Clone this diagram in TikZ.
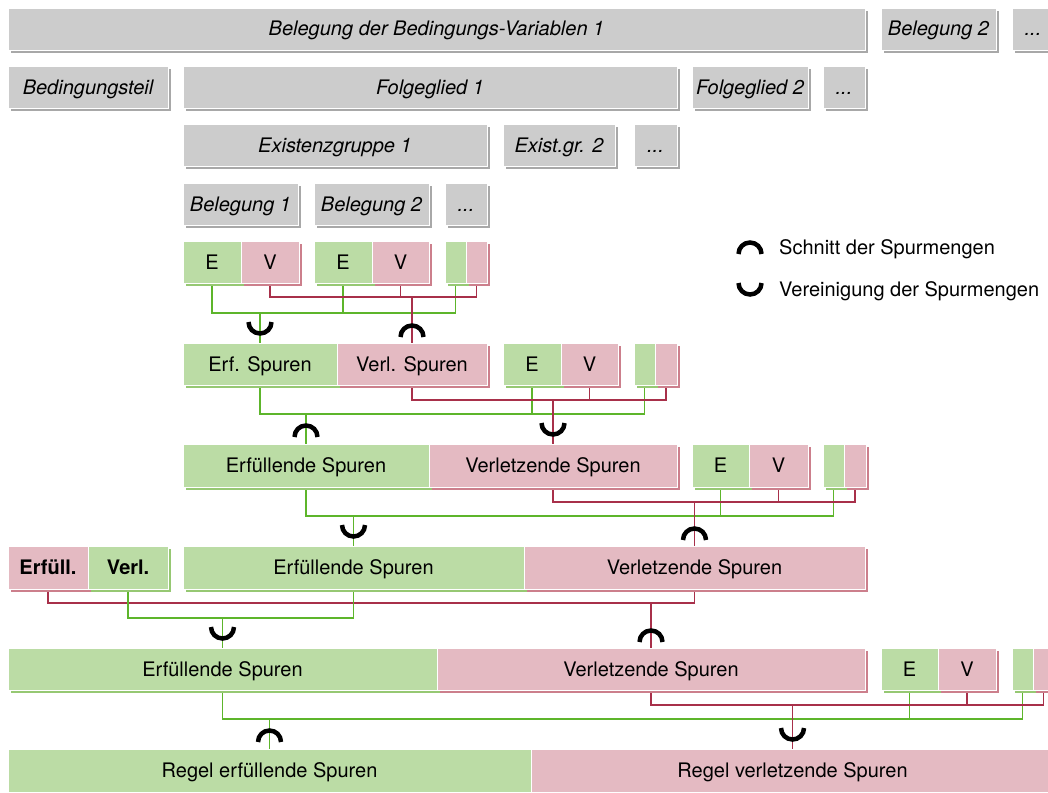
\documentclass[tikz,border=0pt]{standalone}
\usepackage{fontspec}
\setmainfont{TeX Gyre Heros}
\usetikzlibrary{shadows,backgrounds}

\definecolor{boxgray}{HTML}{CCCCCC}
\definecolor{shgray}{HTML}{A8A8A8}
\definecolor{boxgreen}{HTML}{BBDCA5}
\definecolor{shgreen}{HTML}{96C873}
\definecolor{boxpink}{HTML}{E4BAC2}
\definecolor{shpink}{HTML}{CC7F8C}
\definecolor{lgreen}{HTML}{5DB52B}
\definecolor{lpink}{HTML}{A8304A}

% box from its corners: style, name, x1, y1, x2, y2, text
\newcommand{\boxcell}[7]{%
  \node[#1, minimum width={(#5-#3)*1pt}, minimum height={(#6-#4)*1pt}]
    (#2) at ({(#3+#5)/2},{(#4+#6)/2}) {#7};}
% intersection (cap) and union (cup) marks, centred on a named coordinate
\newcommand{\capmark}[1]{\draw[setop] ([xshift=-11.5pt]#1) arc[start angle=180,end angle=0,radius=11.5pt];}
\newcommand{\cupmark}[1]{\draw[setop] ([xshift=-11.5pt]#1) arc[start angle=180,end angle=360,radius=11.5pt];}

\begin{document}
\begin{tikzpicture}[x=1pt,y=-1pt,
  cellbase/.style={rectangle, inner sep=0pt, outer sep=0pt, draw=white,
    line width=0.8pt, text height=14pt, text depth=0pt,
    font=\fontsize{20}{24}\selectfont},
  graycell/.style={cellbase, fill=boxgray, font=\fontsize{20}{24}\selectfont\itshape,
    drop shadow={shadow xshift=3pt, shadow yshift=-3pt, fill=shgray, opacity=1}},
  greencell/.style={cellbase, fill=boxgreen,
    drop shadow={shadow xshift=3pt, shadow yshift=-3pt, fill=shgreen, opacity=1}},
  pinkcell/.style={cellbase, fill=boxpink,
    drop shadow={shadow xshift=3pt, shadow yshift=-3pt, fill=shpink, opacity=1}},
  boldcell/.style={font=\fontsize{20}{24}\selectfont\bfseries},
  gline/.style={draw=lgreen, line width=1.4pt},
  pline/.style={draw=lpink, line width=1.4pt},
  setop/.style={draw=black, line width=4.5pt},
  legtext/.style={anchor=base west, inner sep=0pt, font=\fontsize{20}{24}\selectfont}]

\useasboundingbox (0,0) rectangle (1048,792);

% ---- structure of the rule ----
\boxcell{graycell}{bel}{8}{8}{865}{50}{Belegung der Bedingungs-Variablen 1}
\boxcell{graycell}{belb}{881}{8}{996}{50}{Belegung 2}
\boxcell{graycell}{belc}{1012}{8}{1054}{50}{...}

\boxcell{graycell}{bed}{8}{66}{168}{108}{Bedingungsteil}
\boxcell{graycell}{fol}{183}{66}{677}{108}{Folgeglied 1}
\boxcell{graycell}{folb}{692}{66}{808}{108}{Folgeglied 2}
\boxcell{graycell}{folc}{823}{66}{865}{108}{...}

\boxcell{graycell}{ex}{183}{124}{487}{166}{Existenzgruppe 1}
\boxcell{graycell}{exb}{503}{124}{615}{166}{Exist.gr. 2}
\boxcell{graycell}{exc}{634}{124}{677}{166}{...}

\boxcell{graycell}{bl}{183}{183}{298}{225}{Belegung 1}
\boxcell{graycell}{blb}{314}{183}{429}{225}{Belegung 2}
\boxcell{graycell}{blc}{445}{183}{487}{225}{...}

% ---- trace sets ----
\boxcell{greencell}{E1}{183}{241}{241}{283}{E}
\boxcell{pinkcell}{V1}{241}{241}{299}{283}{V}
\boxcell{greencell}{E2}{314}{241}{372}{283}{E}
\boxcell{pinkcell}{V2}{372}{241}{429}{283}{V}
\boxcell{greencell}{e3}{445}{241}{466}{283}{}
\boxcell{pinkcell}{v3}{466}{241}{487}{283}{}

\boxcell{greencell}{ErfA}{183}{343}{337}{385}{Erf. Spuren}
\boxcell{pinkcell}{VerA}{337}{343}{487}{385}{Verl. Spuren}
\boxcell{greencell}{E4}{503}{343}{561}{385}{E}
\boxcell{pinkcell}{V4}{561}{343}{618}{385}{V}
\boxcell{greencell}{e5}{634}{343}{655}{385}{}
\boxcell{pinkcell}{v5}{655}{343}{677}{385}{}

\boxcell{greencell}{ErfB}{183}{444}{429}{487}{Erfüllende Spuren}
\boxcell{pinkcell}{VerB}{429}{444}{677}{487}{Verletzende Spuren}
\boxcell{greencell}{E6}{692}{444}{749}{487}{E}
\boxcell{pinkcell}{V6}{749}{444}{808}{487}{V}
\boxcell{greencell}{e7}{823}{444}{844}{487}{}
\boxcell{pinkcell}{v7}{844}{444}{866}{487}{}

\boxcell{pinkcell,boldcell}{Ful}{8}{546}{88}{589}{Erfüll.}
\boxcell{greencell,boldcell}{Vrl}{88}{546}{168}{589}{Verl.}
\boxcell{greencell}{ErfC}{183}{546}{524}{589}{Erfüllende Spuren}
\boxcell{pinkcell}{VerC}{524}{546}{865}{589}{Verletzende Spuren}

\boxcell{greencell}{ErfD}{8}{648}{437}{690}{Erfüllende Spuren}
\boxcell{pinkcell}{VerD}{437}{648}{865}{690}{Verletzende Spuren}
\boxcell{greencell}{E8}{881}{648}{938}{690}{E}
\boxcell{pinkcell}{V8}{938}{648}{996}{690}{V}
\boxcell{greencell}{e9}{1012}{648}{1033}{690}{}
\boxcell{pinkcell}{v9}{1033}{648}{1054}{690}{}

\boxcell{greencell}{ErfE}{8}{749}{531}{792}{Regel erfüllende Spuren}
\boxcell{pinkcell}{VerE}{531}{749}{1054}{792}{Regel verletzende Spuren}

% ---- collecting levels ----
\coordinate (g1) at (0,313); \coordinate (p1) at (0,297);
\coordinate (g2) at (0,414); \coordinate (p2) at (0,400);
\coordinate (g3) at (0,516); \coordinate (p3) at (0,502);
\coordinate (g4) at (0,618); \coordinate (p4) at (0,603);
\coordinate (g5) at (0,719); \coordinate (p5) at (0,705);

% connectors run behind the boxes and their shadows
\begin{scope}[on background layer]
% level 1
\draw[gline] (E1.south) |- (e3.south |- g1) -- (e3.south);
\draw[gline] (E2.south) -- (E2.south |- g1);
\draw[gline] (ErfA.north) -- (ErfA.north |- g1);
\draw[pline] (V1.south) |- (v3.south |- p1) -- (v3.south);
\draw[pline] (V2.south) -- (V2.south |- p1);
\draw[pline] (VerA.north) -- (VerA.north |- p1);

% level 2
\draw[gline] (ErfA.south) |- (e5.south |- g2) -- (e5.south);
\draw[gline] (E4.south) -- (E4.south |- g2);
\draw[gline] (ErfB.north) -- (ErfB.north |- g2);
\draw[pline] (VerA.south) |- (v5.south |- p2) -- (v5.south);
\draw[pline] (V4.south) -- (V4.south |- p2);
\draw[pline] (VerB.north) -- (VerB.north |- p2);

% level 3
\draw[gline] (ErfB.south) |- (e7.south |- g3) -- (e7.south);
\draw[gline] (E6.south) -- (E6.south |- g3);
\draw[gline] (ErfC.north) -- (ErfC.north |- g3);
\draw[pline] (VerB.south) |- (v7.south |- p3) -- (v7.south);
\draw[pline] (V6.south) -- (V6.south |- p3);
\draw[pline] (VerC.north) -- (VerC.north |- p3);

% level 4
\draw[pline] (Ful.south) |- (VerC.south |- p4) -- (VerC.south);
\draw[pline] (VerD.north) -- (VerD.north |- p4);
\draw[gline] (Vrl.south) |- (ErfC.south |- g4) -- (ErfC.south);
\draw[gline] (ErfD.north) -- (ErfD.north |- g4);

% level 5
\draw[gline] (ErfD.south) |- (e9.south |- g5) -- (e9.south);
\draw[gline] (E8.south) -- (E8.south |- g5);
\draw[gline] (ErfE.north) -- (ErfE.north |- g5);
\draw[pline] (VerD.south) |- (v9.south |- p5) -- (v9.south);
\draw[pline] (V8.south) -- (V8.south |- p5);
\draw[pline] (VerE.north) -- (VerE.north |- p5);
\end{scope}

% ---- set operations ----
\coordinate (s1) at (ErfA.north |- 0,322); \cupmark{s1}
\coordinate (s2) at (VerA.north |- 0,337); \capmark{s2}
\coordinate (s3) at (ErfB.north |- 0,437); \capmark{s3}
\coordinate (s4) at (VerB.north |- 0,423); \cupmark{s4}
\coordinate (s5) at (ErfC.north |- 0,525); \cupmark{s5}
\coordinate (s6) at (VerC.north |- 0,540); \capmark{s6}
\coordinate (s7) at (ErfD.north |- 0,627); \cupmark{s7}
\coordinate (s8) at (VerD.north |- 0,642); \capmark{s8}
\coordinate (s9) at (ErfE.north |- 0,742); \capmark{s9}
\coordinate (s10) at (VerE.north |- 0,728); \cupmark{s10}

% ---- legend ----
\coordinate (lcap) at (750,254); \capmark{lcap}
\coordinate (lcup) at (750,283); \cupmark{lcup}
\node[legtext] (legcap) at (779,254) {Schnitt der Spurmengen};
\node[legtext] (legcup) at (779,296) {Vereinigung der Spurmengen};
\end{tikzpicture}
\end{document}
